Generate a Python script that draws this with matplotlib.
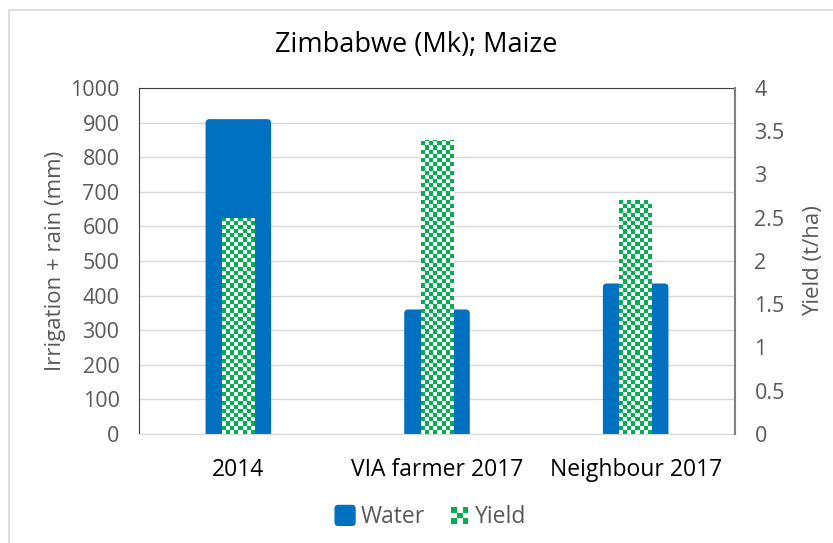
import numpy as np
import matplotlib.pyplot as plt
from matplotlib.colors import ListedColormap
from matplotlib.patches import Patch, Rectangle, FancyBboxPatch
from matplotlib.legend_handler import HandlerBase

# --- data ---
categories = ['2014', 'VIA farmer 2017', 'Neighbour 2017']
water_mm = [910, 360, 435]
yield_tha = [2.5, 3.4, 2.7]
water_ticks = list(range(0, 1001, 100))
yield_ticks = [0, 0.5, 1, 1.5, 2, 2.5, 3, 3.5, 4]
yield_tick_labels = ['0', '0.5', '1', '1.5', '2', '2.5', '3', '3.5', '4']

blue = '#0070C0'
green = '#00B050'
grey_text = '#595959'

plt.rcParams['font.family'] = ['Open Sans', 'DejaVu Sans']

fig = plt.figure(figsize=(8.33, 5.43), dpi=100)
ax1 = fig.add_axes([139 / 833, 1 - 434 / 543, 596 / 833, 346 / 543])
ax2 = ax1.twinx()

x = np.arange(len(categories))

# --- water bars (left axis), tops slightly rounded like Excel ---
ax1.set_axisbelow(True)
ax1.grid(axis='y', color='#D9D9D9', linewidth=1)
ax1.set_ylim(0, 1000)
ax1.set_xlim(-0.5, 2.5)
water_bars = ax1.bar(x, water_mm, width=0.33, color=blue, zorder=2)
px_x = 1 / 596 * 3.0      # data units per pixel, x
px_y = 1 / 346 * 1000.0   # data units per pixel, y
for b in water_bars:
    bx, by = b.get_x(), b.get_y()
    bw, bh = b.get_width(), b.get_height()
    b.set_visible(False)
    r = FancyBboxPatch((bx, by - 10 * px_y), bw, bh + 10 * px_y,
                       boxstyle='round,pad=0,rounding_size=%f' % (4 * px_x),
                       mutation_aspect=px_y / px_x,
                       facecolor=blue, edgecolor='none', zorder=2)
    ax1.add_patch(r)
ax1.set_yticks(water_ticks)
ax1.set_ylabel('Irrigation + rain (mm)', color=grey_text, fontsize=16, labelpad=3)

# --- yield bars (right axis), filled with a checker pattern ---
ax2.set_ylim(0, 4)
bars = ax2.bar(x, yield_tha, width=0.165, color='none', edgecolor='none')
n_rows, n_cols = 83, 144
checker = np.indices((n_rows, n_cols)).sum(axis=0) % 2
cmap = ListedColormap(['white', green])
for b in bars:
    im = ax2.imshow(checker, cmap=cmap, extent=(-0.5, 2.5, 0, 4),
                    aspect='auto', interpolation='nearest', zorder=3)
    im.set_clip_path(b)
ax2.set_xlim(-0.5, 2.5)
ax2.set_ylim(0, 4)
ax2.set_yticks(yield_ticks)
ax2.set_yticklabels(yield_tick_labels)
ax2.set_ylabel('Yield (t/ha)', color=grey_text, fontsize=16, labelpad=13)

# --- axes styling ---
ax1.set_xticks(x)
ax1.set_xticklabels(categories, fontsize=16.5, color='black')
ax1.tick_params(axis='x', length=0, pad=17)
ax1.tick_params(axis='y', length=0, labelsize=15.5, labelcolor=grey_text, pad=14)
ax2.tick_params(axis='y', length=0, labelsize=15.5, labelcolor=grey_text, pad=14)
for ax in (ax1, ax2):
    for s in ax.spines.values():
        s.set_visible(False)
ax1.spines['left'].set_visible(True)
ax1.spines['left'].set_color('#404040')
ax1.spines['top'].set_visible(True)
ax1.spines['top'].set_color('#404040')
ax1.spines['bottom'].set_visible(True)
ax1.spines['bottom'].set_color('#D9D9D9')
ax2.spines['right'].set_visible(True)
ax2.spines['right'].set_color('#808080')
ax2.spines['right'].set_linewidth(1.5)

fig.suptitle('Zimbabwe (Mk); Maize', y=1 - 45 / 543, va='center', fontsize=19.5)


# --- legend with a small checker handle for Yield ---
class CheckerHandler(HandlerBase):
    def create_artists(self, legend, orig_handle, xdescent, ydescent,
                       width, height, fontsize, trans):
        side = height * 0.8
        x0 = -xdescent + (width - side) / 2
        y0 = -ydescent + (height - side) / 2
        cell = side / 3
        arts = []
        for i in range(3):
            for j in range(3):
                if (i + j) % 2 == 0:
                    arts.append(Rectangle((x0 + i * cell, y0 + j * cell), cell, cell,
                                          facecolor=green, edgecolor='none',
                                          transform=trans))
        return arts


class RoundSquareHandler(HandlerBase):
    def create_artists(self, legend, orig_handle, xdescent, ydescent,
                       width, height, fontsize, trans):
        side = height
        x0 = -xdescent + (width - side) / 2
        y0 = -ydescent
        p = FancyBboxPatch((x0, y0), side, side,
                           boxstyle='round,pad=0,rounding_size=%f' % (side * 0.18),
                           facecolor=blue, edgecolor='none', transform=trans)
        return [p]


water_handle = Patch(facecolor=blue, edgecolor=blue)
yield_handle = Patch(facecolor=green)
fig.legend([water_handle, yield_handle], ['Water', 'Yield'],
           loc='center', bbox_to_anchor=(0.516, 1 - 517 / 543), ncol=2,
           frameon=False, fontsize=16.5, labelcolor=grey_text,
           handlelength=1.05, handleheight=1.05, handletextpad=0.15, columnspacing=1.0,
           handler_map={yield_handle: CheckerHandler(),
                        water_handle: RoundSquareHandler()})

# outer chart border
fig.patches.append(Rectangle((9 / 833, -0.1), 1.2, 1.1 - 10 / 543, transform=fig.transFigure,
                             fill=False, edgecolor='#D9D9D9', linewidth=1.2))

fig.savefig('out.png', dpi=100)
